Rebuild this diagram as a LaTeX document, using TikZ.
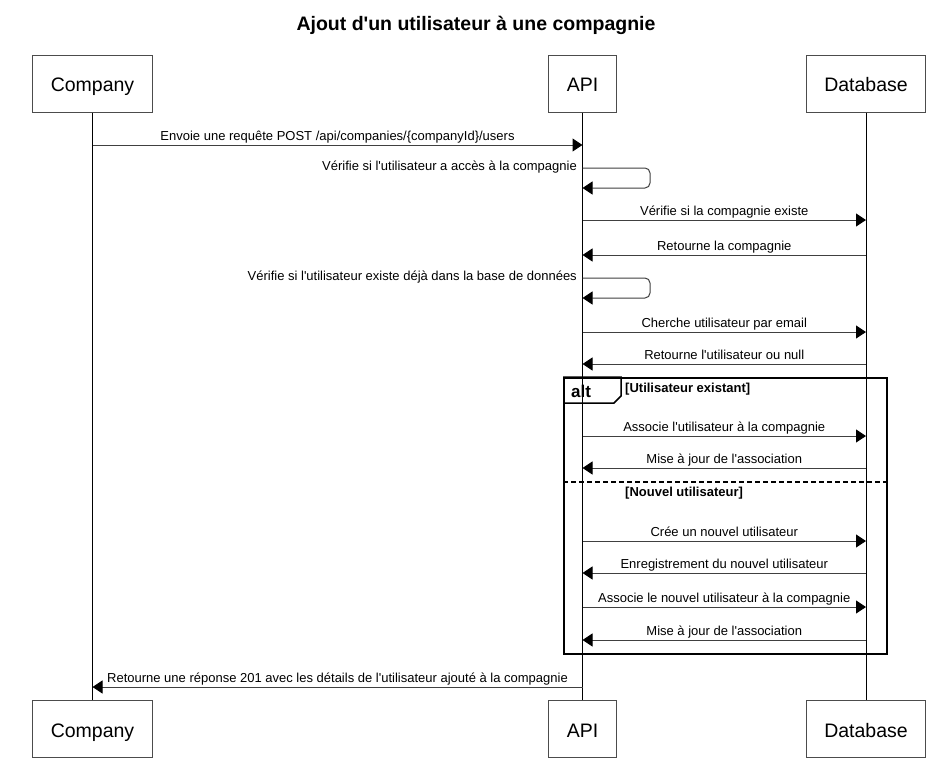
\documentclass[tikz,border=0pt]{standalone}
\usepackage{fontspec}
\newfontfamily\lsans{Liberation Sans}
\usetikzlibrary{arrows.meta,calc}
\tikzset{
  actor/.style={draw=black!70, line width=1pt, fill=white, minimum height=57pt, inner xsep=18pt, inner ysep=0pt, text height=16pt, text depth=0pt, font=\lsans\fontsize{19.5}{22}\selectfont},
  life/.style={draw=black, line width=1pt},
  msg/.style={draw=black!75, line width=1pt, -{Triangle[length=10pt,width=13pt,color=black]}},
  lbl/.style={font=\lsans\fontsize{13}{15}\selectfont, anchor=base, inner sep=0pt},
  selflbl/.style={lbl, anchor=base east},
  guard/.style={font=\lsans\bfseries\fontsize{13}{15}\selectfont, anchor=base west, inner sep=0pt},
  frameline/.style={draw=black, line width=1.5pt},
  titlestyle/.style={font=\lsans\bfseries\fontsize{19.5}{22}\selectfont, anchor=base, inner sep=0pt},
}
\begin{document}
\begin{tikzpicture}[x=1pt,y=-1pt]
\useasboundingbox[fill=white] (0,0) rectangle (952,766);
\node[titlestyle] (title) at (476,30) {Ajout d'un utilisateur à une compagnie};

% participants
\node[actor] (cT) at (92.5,83.5) {Company};
\node[actor] (aT) at (582.5,83.5) {API};
\node[actor] (dT) at (866,83.5) {Database};
\node[actor] (cB) at (92.5,729) {Company};
\node[actor] (aB) at (582.5,729) {API};
\node[actor] (dB) at (866,729) {Database};

% lifelines
\draw[life] (cT.south) -- (cB.north);
\draw[life] (aT.south) -- (aB.north);
\draw[life] (dT.south) -- (dB.north);

% alt frame
\node[frameline, anchor=north west, minimum width=323pt, minimum height=276pt, inner sep=0pt] (alt) at (563,377) {};
\draw[frameline] (alt.north west) -- (621,377) -- (621,396) -- (614,403) -- (alt.west |- 0,403);
\node[font=\lsans\bfseries\fontsize{17}{20}\selectfont, anchor=base west, inner sep=0pt] (altlbl) at (571,397) {alt};
\node[guard] (g1) at (625,392) {[Utilisateur existant]};
\draw[frameline, dash pattern=on 5pt off 3pt] (alt.west |- 0,482) -- (alt.east |- 0,482);
\node[guard] (g2) at (625,496) {[Nouvel utilisateur]};

% messages
\draw[msg] (cT |- 0,145) -- (aT |- 0,145);
\node[lbl] (l1) at (337.5,140.5) {Envoie une requête POST /api/companies/\{companyId\}/users};

\draw[msg, rounded corners=5pt] (aT |- 0,168) -- (650,168) -- (650,188) -- (aT |- 0,188);
\node[selflbl] (l2) at (577,170) {Vérifie si l'utilisateur a accès à la compagnie};

\draw[msg] (aT |- 0,220) -- (dT |- 0,220);
\node[lbl] (l3) at (724.25,215.5) {Vérifie si la compagnie existe};

\draw[msg] (dT |- 0,255) -- (aT |- 0,255);
\node[lbl] (l4) at (724.25,250.5) {Retourne la compagnie};

\draw[msg, rounded corners=5pt] (aT |- 0,278) -- (650,278) -- (650,298) -- (aT |- 0,298);
\node[selflbl] (l5) at (577,280) {Vérifie si l'utilisateur existe déjà dans la base de données};

\draw[msg] (aT |- 0,332) -- (dT |- 0,332);
\node[lbl] (l6) at (724.25,327.5) {Cherche utilisateur par email};

\draw[msg] (dT |- 0,364) -- (aT |- 0,364);
\node[lbl] (l7) at (724.25,359.5) {Retourne l'utilisateur ou null};

\draw[msg] (aT |- 0,436) -- (dT |- 0,436);
\node[lbl] (l8) at (724.25,431.5) {Associe l'utilisateur à la compagnie};

\draw[msg] (dT |- 0,468) -- (aT |- 0,468);
\node[lbl] (l9) at (724.25,463.5) {Mise à jour de l'association};

\draw[msg] (aT |- 0,541) -- (dT |- 0,541);
\node[lbl] (l10) at (724.25,536.5) {Crée un nouvel utilisateur};

\draw[msg] (dT |- 0,573) -- (aT |- 0,573);
\node[lbl] (l11) at (724.25,568.5) {Enregistrement du nouvel utilisateur};

\draw[msg] (aT |- 0,607) -- (dT |- 0,607);
\node[lbl] (l12) at (724.25,602.5) {Associe le nouvel utilisateur à la compagnie};

\draw[msg] (dT |- 0,640) -- (aT |- 0,640);
\node[lbl] (l13) at (724.25,635.5) {Mise à jour de l'association};

\draw[msg] (aT |- 0,687) -- (cT |- 0,687);
\node[lbl] (l14) at (337.5,682.5) {Retourne une réponse 201 avec les détails de l'utilisateur ajouté à la compagnie};
\end{tikzpicture}
\end{document}
